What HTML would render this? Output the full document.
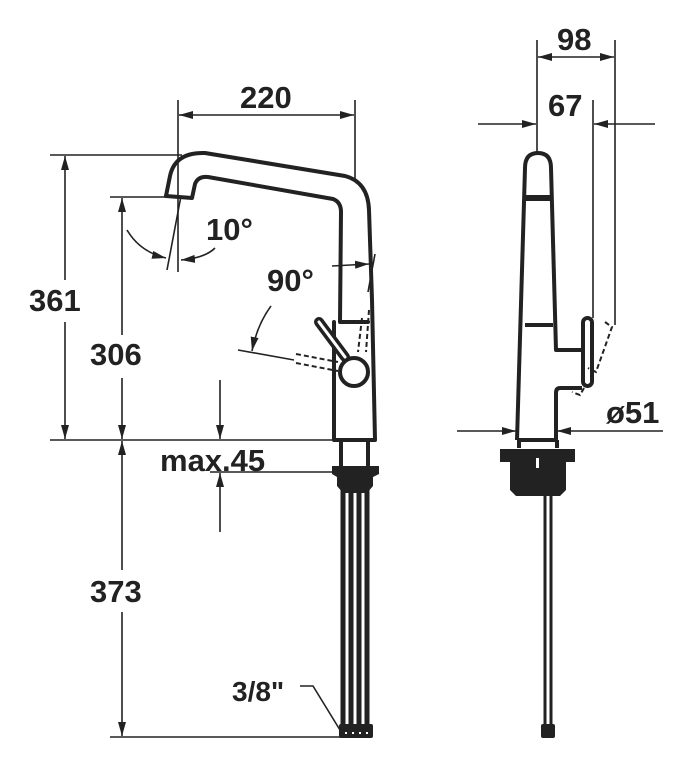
<!DOCTYPE html>
<html><head><meta charset="utf-8"><style>
html,body{margin:0;padding:0;background:#fff}
svg{display:block}
text{font-family:"Liberation Sans Narrow","Liberation Sans",sans-serif;font-weight:bold;font-size:31px;fill:#222}
</style></head><body>
<svg width="700" height="763" viewBox="0 0 700 763" xmlns="http://www.w3.org/2000/svg">
<defs>
<marker id="a" viewBox="0 0 14 8" refX="14" refY="4" markerWidth="14" markerHeight="8" orient="auto" markerUnits="userSpaceOnUse"><path d="M0,0 L14,4 L0,8 Z" fill="#222"/></marker>
</defs>
<g stroke="#222" stroke-width="1.6" fill="none">
<line x1="178" y1="100" x2="178" y2="272"/>
<line x1="355" y1="100" x2="355" y2="182"/>
<line x1="192" y1="115" x2="179" y2="115" marker-end="url(#a)"/>
<line x1="192" y1="115" x2="354" y2="115" marker-end="url(#a)"/>
<line x1="50" y1="155" x2="182" y2="155"/>
<line x1="110" y1="197" x2="172" y2="197"/>
<line x1="50" y1="440" x2="335" y2="440"/>
<line x1="110" y1="737" x2="345" y2="737"/>
<line x1="65" y1="280" x2="65" y2="156" marker-end="url(#a)"/>
<line x1="65" y1="322" x2="65" y2="439" marker-end="url(#a)"/>
<line x1="122" y1="335" x2="122" y2="198" marker-end="url(#a)"/>
<line x1="122" y1="378" x2="122" y2="439" marker-end="url(#a)"/>
<line x1="122" y1="570" x2="122" y2="441" marker-end="url(#a)"/>
<line x1="122" y1="612" x2="122" y2="736" marker-end="url(#a)"/>
<line x1="220" y1="380" x2="220" y2="439" marker-end="url(#a)"/>
<line x1="210" y1="472" x2="335" y2="472"/>
<line x1="220" y1="532" x2="220" y2="473" marker-end="url(#a)"/>
<line x1="167" y1="270" x2="181" y2="196"/>
<path d="M127,230 Q140,252 166,258" marker-end="url(#a)"/>
<path d="M215,248 Q205,258 181,260" marker-end="url(#a)"/>
<line x1="332" y1="266" x2="369" y2="264" marker-end="url(#a)"/>
<line x1="375" y1="254" x2="368" y2="292"/>
<line x1="238" y1="350" x2="294" y2="360"/>
<path d="M271,306 Q257,325 252,351" marker-end="url(#a)"/>
<polyline points="300,686 313,686 340,730"/>
</g>
<g stroke="#222" stroke-width="4" fill="none" stroke-linejoin="round" stroke-linecap="round">
<path d="M166,196 L170,176 Q175,152 205,153 L345,176 Q368,182 369,210 L372,300 L375,440 L334,440 L334,322"/>
<path d="M166,196 L192,198 L195,184 Q198,176 208,177 L333,199 Q341,202 341,212 L340,322 L368,322"/>
<circle cx="354" cy="372" r="14" fill="#fff"/>
<line x1="319" y1="322" x2="345" y2="357" stroke-width="10"/>
<line x1="319" y1="322" x2="345" y2="357" stroke="#fff" stroke-width="3"/>
<line x1="341" y1="440" x2="341" y2="470"/>
<line x1="368" y1="440" x2="368" y2="470"/>
</g>
<g stroke="#222" stroke-width="2" fill="none" stroke-dasharray="5,3">
<line x1="296" y1="354" x2="338" y2="362"/>
<line x1="296" y1="363" x2="338" y2="371"/>
<line x1="362" y1="318" x2="358" y2="352"/>
<line x1="369" y1="310" x2="366" y2="352"/>
</g>
<path d="M332,466 L379,466 L379,474 L373,477 L373,486 L367,493 L343,493 L337,486 L337,477 L332,474 Z" fill="#222"/>
<g stroke="#222" stroke-width="5">
<line x1="343" y1="490" x2="343" y2="728"/>
<line x1="351" y1="490" x2="351" y2="728"/>
<line x1="359" y1="490" x2="359" y2="728"/>
<line x1="367" y1="490" x2="367" y2="728"/>
</g>
<rect x="339" y="724" width="34" height="14" rx="2" fill="#222"/>
<g fill="#fff"><rect x="345" y="732" width="2" height="2"/><rect x="352" y="732" width="2" height="2"/><rect x="359" y="732" width="2" height="2"/><rect x="366" y="732" width="2" height="2"/></g>
<g stroke="#222" stroke-width="1.6" fill="none">
<line x1="537" y1="40" x2="537" y2="155"/>
<line x1="615" y1="40" x2="615" y2="325"/>
<line x1="593" y1="100" x2="593" y2="318"/>
<line x1="576" y1="57" x2="538" y2="57" marker-end="url(#a)"/>
<line x1="576" y1="57" x2="614" y2="57" marker-end="url(#a)"/>
<line x1="478" y1="124" x2="536" y2="124" marker-end="url(#a)"/>
<line x1="655" y1="124" x2="594" y2="124" marker-end="url(#a)"/>
<line x1="457" y1="431" x2="516" y2="431" marker-end="url(#a)"/>
<line x1="663" y1="431" x2="557" y2="431" marker-end="url(#a)"/>
</g>
<g stroke="#222" stroke-width="4" fill="none" stroke-linejoin="round">
<path d="M517,440 L525,168 Q525,153 538,153 Q551,153 551,168 L556,350 L582,350"/>
<path d="M582,388 L560,388 Q556,388 556,393 L556,440 L517,440"/>
<line x1="525" y1="325" x2="553" y2="325"/>
<rect x="583" y="318" width="9" height="68" rx="4.5"/>
<line x1="557" y1="440" x2="557" y2="448"/>
<line x1="519" y1="440" x2="519" y2="448"/>
</g>
<rect x="526" y="195" width="25" height="6" fill="#222"/>
<g stroke="#222" stroke-width="2" fill="none" stroke-dasharray="5,3">
<path d="M605,322 L612,327 L596,372 L588,368"/>
<path d="M584,388 L580,395 L572,392"/>
</g>
<path d="M500,449 L575,449 L575,462 L566,462 L566,490 L560,496 L516,496 L510,490 L510,462 L500,462 Z" fill="#222"/>
<rect x="536" y="458" width="3" height="10" fill="#fff"/>
<g stroke="#222" stroke-width="3">
<line x1="545" y1="496" x2="545" y2="728"/>
<line x1="551" y1="496" x2="551" y2="728"/>
</g>
<rect x="541" y="724" width="14" height="14" rx="2" fill="#222"/>
<text x="240" y="108">220</text>
<text x="29" y="311">361</text>
<text x="90" y="365">306</text>
<text x="90" y="602">373</text>
<text x="160" y="471">max.45</text>
<text x="206" y="240">10°</text>
<text x="267" y="291">90°</text>
<text x="232" y="701" style="font-size:28px">3/8"</text>
<text x="557" y="50">98</text>
<text x="548" y="116">67</text>
<text x="606" y="423">ø51</text>
</svg>
</body></html>
